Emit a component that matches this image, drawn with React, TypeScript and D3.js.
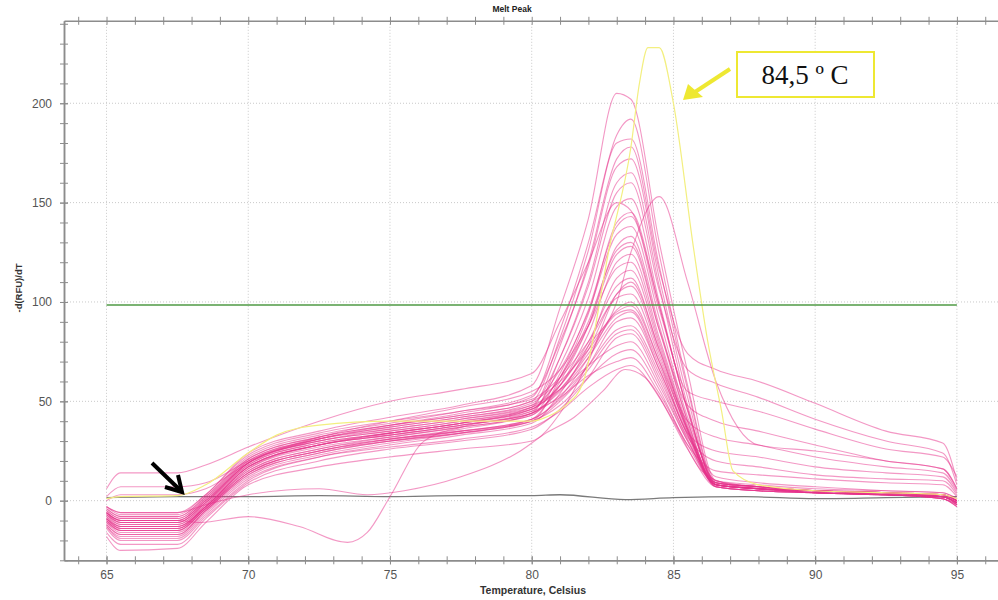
import React, { useEffect, useRef } from 'react';
import * as d3 from 'd3';

// melt curve samples, deg C
const temps = [65, 65.5, 67.5, 68.5, 70, 72.5, 75, 77.5, 80, 81, 82, 83, 83.5, 84.5, 85.5, 86.5, 88, 90, 92.5, 94.5, 95];

// -d(RFU)/dT for each sample well
const pinkCurves = [
  [-3, -6, -6, 3, 24, 35, 42, 48, 58, 97, 142, 205, 202, 130, 65, 10, 7, 5, 4, 3, 0],
  [-7, -11, -11, -1, 19, 31, 38, 44, 52, 86, 130, 184, 192, 124, 58, 9, 6, 5, 4, 2, -1],
  [-5, -9, -9, 1, 21, 32, 38, 43, 50, 82, 126, 180, 182, 118, 56, 8, 6, 4, 3, 2, -2],
  [-9, -14, -14, -4, 16, 28, 34, 39, 47, 78, 120, 172, 178, 116, 74, 66, 60, 49, 35, 29, 10],
  [-4, -8, -8, 2, 22, 33, 39, 45, 53, 80, 118, 168, 172, 112, 52, 7, 5, 4, 3, 1, -2],
  [-11, -16, -16, -5, 14, 25, 31, 36, 44, 72, 110, 160, 165, 108, 48, 8, 6, 5, 3, 2, 0],
  [-6, -10, -10, 0, 19, 30, 36, 41, 48, 72, 108, 155, 160, 106, 66, 59, 52, 41, 30, 24, 8],
  [-8, -13, -13, -3, 17, 28, 33, 38, 45, 68, 102, 148, 152, 100, 45, 10, 8, 6, 5, 4, 1],
  [6, 14, 14, 18, 27, 40, 50, 56, 64, 90, 120, 150, 146, 98, 46, 9, 7, 5, 4, 3, 0],
  [-10, -15, -15, -4, 15, 26, 32, 37, 43, 64, 96, 138, 143, 96, 55, 50, 45, 36, 26, 22, 12],
  [-5, -9, -9, 1, 20, 31, 37, 42, 49, 66, 95, 134, 138, 92, 42, 12, 9, 7, 5, 4, 1],
  [-13, -18, -18, -6, 12, 23, 29, 34, 41, 60, 88, 128, 133, 88, 40, 7, 5, 4, 3, 1, -3],
  [-7, -12, -12, -2, 18, 29, 34, 39, 46, 62, 88, 124, 128, 86, 48, 40, 35, 28, 20, 16, 6],
  [-10, -14, -14, -3, 16, 27, 32, 37, 43, 58, 84, 120, 124, 82, 38, 8, 6, 5, 4, 2, -1],
  [2, 7, 7, 9, 20, 32, 40, 47, 55, 66, 88, 117, 120, 80, 37, 9, 7, 5, 4, 3, 0],
  [-14, -20, -20, -8, 10, 22, 28, 33, 39, 54, 78, 112, 116, 78, 36, 7, 5, 4, 3, 1, -2],
  [-6, -11, -11, -1, 19, 30, 35, 40, 46, 58, 80, 108, 112, 76, 40, 32, 28, 22, 17, 14, 5],
  [-9, -13, -13, -3, 17, 28, 33, 38, 44, 56, 76, 104, 108, 74, 35, 8, 6, 5, 4, 3, 0],
  [-3, -7, -7, 3, 23, 34, 40, 45, 51, 62, 80, 102, 104, 72, 35, 8, 6, 5, 4, 2, -1],
  [-12, -17, -17, -5, 13, 24, 30, 35, 41, 52, 72, 96, 100, 70, 34, 25, 22, 17, 14, 12, 4],
  [-6, -10, -10, 0, 20, 31, 36, 41, 47, 56, 74, 94, 96, 68, 34, 9, 7, 5, 4, 3, 0],
  [-10, -15, -15, -4, 14, 25, 31, 35, 41, 51, 68, 90, 92, 66, 33, 8, 6, 4, 3, 2, -1],
  [-8, -12, -12, -2, 17, 28, 33, 38, 44, 53, 68, 86, 88, 64, 32, 20, 17, 13, 11, 10, 3],
  [-16, -22, -22, -9, 9, 20, 26, 30, 36, 46, 62, 82, 84, 60, 30, 8, 6, 4, 3, 2, -2],
  [0, 3, 3, 6, 19, 31, 37, 42, 48, 56, 68, 78, 80, 58, 30, 9, 7, 5, 4, 3, 0],
  [-11, -15, -15, -4, 14, 25, 30, 34, 40, 48, 62, 74, 76, 56, 28, 15, 13, 11, 9, 8, 2],
  [-7, -11, -11, -1, 18, 29, 34, 39, 45, 52, 63, 70, 72, 54, 28, 8, 6, 4, 3, 2, -2],
  [-13, -19, -19, -7, 11, 22, 27, 31, 37, 45, 57, 66, 68, 52, 26, 7, 5, 4, 3, 1, -3],
  [-18, -25, -24, -11, 8, 17, 22, 26, 30, 44, 70, 104, 110, 76, 36, 7, 5, 4, 3, 1, -3],
  [-4, -8, -8, 2, 21, 32, 38, 43, 50, 60, 76, 95, 98, 70, 36, 10, 7, 5, 4, 3, 0],
  [-9, -14, -14, -3, 15, 26, 31, 35, 40, 50, 66, 84, 86, 62, 31, 8, 6, 5, 3, 2, -1],
  [-12, -17, -17, -5, 13, 24, 30, 34, 40, 62, 94, 140, 145, 98, 46, 9, 7, 5, 4, 2, -1],
  [-6, -10, -10, 0, 19, 30, 35, 40, 47, 62, 90, 126, 130, 86, 40, 8, 6, 5, 4, 3, 0],
  // late melting well, peak near 84.5
  [-9, -13, -13, -3, 17, 28, 34, 39, 46, 58, 78, 100, 125, 153, 110, 60, 28, 25, 20, 16, 6],
];

// well that dips below zero around 74 C
const dipTemps = [65, 65.5, 67.5, 68.3, 70, 71.8, 73.5, 74.2, 75, 76.2, 77.5, 80, 81, 82, 83, 83.5, 84.5, 85.5, 86.5, 88, 90, 92.5, 94.5, 95];
const dipCurve = [-6, -10, -10, -11, -8, -13, -21, -16, 2, 30, 37, 44, 55, 72, 92, 95, 66, 33, 8, 6, 4, 3, 2, -1];

// slow riser that stays near baseline until 75 C
const lowTemps = [65, 65.5, 67.5, 68.5, 70, 72.5, 74.2, 75.5, 77.5, 79.6, 80.5, 81.5, 82.5, 83.3, 84, 85, 86, 87, 88, 90, 92.5, 94.5, 95];
const lowCurve = [-3, -6, -6, -2, 3, 6, 3, 5, 12, 25, 34, 42, 55, 66, 62, 40, 15, 8, 6, 4, 3, 2, -1];

// highlighted sample, peak 84.5 C
const yellowTemps = [65, 65.5, 67.5, 68.5, 70, 71, 72.5, 75, 77.5, 80, 80.5, 81.2, 81.8, 82.75, 83.5, 83.8, 84.1, 84.5, 85, 85.7, 86.2, 86.7, 87.1, 88, 90, 92.5, 94.5, 95];
const yellowCurve = [1, 2, 2.5, 8, 24, 33, 38, 40, 40, 40, 42, 48, 59, 128, 178, 210, 228, 228, 200, 128, 81, 45, 15, 8, 5, 4, 3, 1];

// no template control
const ntcTemps = [65, 67.5, 70, 72.5, 75, 77.5, 80, 81, 83.3, 85, 87.5, 90, 92.5, 95];
const ntcCurve = [1.5, 2, 2, 2.5, 2, 2.5, 2.5, 3, 0.5, 1.5, 2, 1, 1.5, 2];

const thresholdTemps = [65, 95];
const thresholdValue = 98.5;

const xMajor = [65, 70, 75, 80, 85, 90, 95];
const xMinor = d3.range(64, 97, 1);
const yMajor = [0, 50, 100, 150, 200];
const yMinor = d3.range(-30, 241, 10);

const x = d3.scaleLinear().domain([63.5, 96.45]).range([64, 998]);
const y = d3.scaleLinear().domain([-30, 241.5]).range([560.3, 20.8]);

const line = d3
  .line<[number, number]>()
  .x((d) => x(d[0]))
  .y((d) => y(d[1]))
  .curve(d3.curveMonotoneX);

const zip = (ts: number[], vs: number[]) => ts.map((t, i) => [t, vs[i]] as [number, number]);

export default function App() {
  const axesRef = useRef<SVGGElement>(null);

  useEffect(() => {
    const g = d3.select(axesRef.current);
    g.selectAll('*').remove();

    const style = (sel: any, vertical: boolean) => {
      sel.select('.domain').attr('stroke', '#8c8c8c').attr('stroke-width', 1.5);
      sel
        .selectAll('.tick line')
        .attr('stroke', '#8c8c8c')
        .attr(vertical ? 'x1' : 'y1', -4)
        .attr(vertical ? 'x2' : 'y2', 4);
      sel
        .selectAll('.tick text')
        .attr('fill', '#555')
        .style('font-family', 'Liberation Sans, Arial, sans-serif')
        .style('font-size', '12px');
    };

    const bottom = g.append('g').attr('transform', `translate(0,${y(-30)})`);
    bottom.append('g').call(d3.axisBottom(x).tickValues(xMinor).tickSize(4).tickSizeOuter(0).tickFormat(() => '')).call((s) => style(s, false));
    bottom.append('g').call(d3.axisBottom(x).tickValues(xMajor).tickSize(4).tickSizeOuter(0).tickPadding(6)).call((s) => style(s, false));

    const top = g.append('g').attr('transform', `translate(0,${y(241.5)})`);
    top.append('g').call(d3.axisTop(x).tickValues(xMinor).tickSize(4).tickSizeOuter(0).tickFormat(() => '')).call((s) => style(s, false));

    const left = g.append('g').attr('transform', `translate(${x(63.5)},0)`);
    left.append('g').call(d3.axisLeft(y).tickValues(yMinor).tickSize(4).tickSizeOuter(0).tickFormat(() => '')).call((s) => style(s, true));
    left.append('g').call(d3.axisLeft(y).tickValues(yMajor).tickSize(4).tickSizeOuter(0).tickPadding(8)).call((s) => style(s, true));
  }, []);

  return (
    <svg width={998} height={600} style={{ position: 'absolute', left: 0, top: 0, background: '#fff' }}>
      {/* grid */}
      <g stroke="#c9c9c9" strokeWidth={1} strokeDasharray="1,2">
        {xMajor.map((t) => (
          <line key={'gx' + t} x1={x(t)} x2={x(t)} y1={y(241.5)} y2={y(-30)} />
        ))}
        {yMajor.map((v) => (
          <line key={'gy' + v} x1={x(63.5)} x2={998} y1={y(v)} y2={y(v)} />
        ))}
      </g>

      <path d={line(zip(ntcTemps, ntcCurve)) || ''} fill="none" stroke="#7a7a7a" strokeWidth={1.3} />

      <g fill="none" stroke="#e8318b" strokeOpacity={0.5} strokeWidth={1.1}>
        {pinkCurves.map((c, i) => (
          <path key={i} d={line(zip(temps, c)) || ''} />
        ))}
        <path d={line(zip(dipTemps, dipCurve)) || ''} />
        <path d={line(zip(lowTemps, lowCurve)) || ''} />
      </g>

      <path d={line(zip(yellowTemps, yellowCurve)) || ''} fill="none" stroke="#f3ef80" strokeWidth={1.2} />

      <line
        x1={x(thresholdTemps[0])}
        x2={x(thresholdTemps[1])}
        y1={y(thresholdValue)}
        y2={y(thresholdValue)}
        stroke="#4f9a45"
        strokeWidth={1.5}
      />

      <g ref={axesRef} />

      <text x={512} y={12} textAnchor="middle" fontFamily="Liberation Sans, Arial, sans-serif" fontWeight="bold" fontSize={8.5} fill="#222">
        Melt Peak
      </text>
      <text x={533} y={594} textAnchor="middle" fontFamily="Liberation Sans, Arial, sans-serif" fontWeight="bold" fontSize={10.5} fill="#333">
        Temperature, Celsius
      </text>
      <text
        transform="translate(22,288) rotate(-90)"
        textAnchor="middle"
        fontFamily="Liberation Sans, Arial, sans-serif"
        fontWeight="bold"
        fontSize={9.5}
        fill="#333"
      >
        -d(RFU)/dT
      </text>

      {/* annotations */}
      <path d="M152,463 L180,490" stroke="#000" strokeWidth={4} fill="none" />
      <path d="M178,475 L182,492 L165,487" stroke="#000" strokeWidth={4} fill="none" strokeLinejoin="miter" />

      <path d="M730,69 L695,92" stroke="#eee832" strokeWidth={4} fill="none" />
      <polygon points="683,100 688,84 703,97" fill="#eee832" />
      <rect x={737} y={52} width={137} height={45} fill="#fff" stroke="#eee832" strokeWidth={2} />
      <text x={805} y={84} textAnchor="middle" fontFamily="Liberation Serif, Times New Roman, serif" fontSize={27} fill="#111">
        84,5 º C
      </text>
    </svg>
  );
}
